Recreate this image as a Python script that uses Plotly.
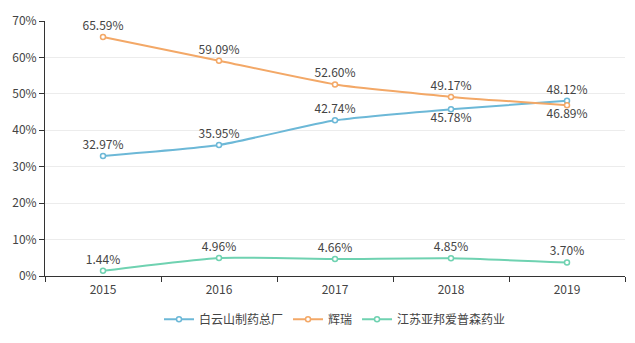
import plotly.graph_objects as go

years = ["2015", "2016", "2017", "2018", "2019"]
baiyunshan = [32.97, 35.95, 42.74, 45.78, 48.12]
huirui = [65.59, 59.09, 52.60, 49.17, 46.89]
jiangsu = [1.44, 4.96, 4.66, 4.85, 3.70]
names = ["白云山制药总厂", "辉瑞", "江苏亚邦爱普森药业"]
y_ticks = [0, 10, 20, 30, 40, 50, 60, 70]

colors = ["#6cb8d7", "#f3a867", "#6fd2b1"]
series = [baiyunshan, huirui, jiangsu]
positions = [
    ["top center", "top center", "top center", "bottom center", "top center"],
    ["top center", "top center", "top center", "top center", "bottom center"],
    ["top center"] * 5,
]

font = "Microsoft YaHei, Noto Sans CJK SC, sans-serif"
fig = go.Figure()
for name, vals, c, pos in zip(names, series, colors, positions):
    fig.add_trace(go.Scatter(
        x=years, y=vals, name=name, mode="lines+markers+text",
        line=dict(color=c, width=2, shape="spline", smoothing=0.5),
        marker=dict(symbol="circle", size=5, color="white", line=dict(color=c, width=1.5)),
        text=[f"{v:.2f}%" for v in vals], textposition=pos,
        textfont=dict(size=12, color="#444", family=font),
        cliponaxis=False,
    ))

fig.update_layout(
    width=635, height=343,
    margin=dict(l=45, r=10, t=21, b=66),
    paper_bgcolor="white", plot_bgcolor="white",
    font=dict(family=font, size=12, color="#444"),
    showlegend=True,
    legend=dict(orientation="h", x=0.5, xanchor="center", y=-0.165, yanchor="middle",
                font=dict(size=12, color="#444", family=font), itemwidth=30,
                traceorder="normal"),
    xaxis=dict(type="category", range=[-0.5, 4.5], showline=True, linecolor="#333", linewidth=1,
               ticks="outside", tickson="boundaries", ticklen=5, tickcolor="#333",
               ticklabelstandoff=3,
               showgrid=False, tickfont=dict(size=12, color="#444")),
    yaxis=dict(range=[0, 70], tickvals=y_ticks, ticktext=[f"{t}%" for t in y_ticks],
               showline=True, linecolor="#333", linewidth=1, ticks="outside", ticklen=5,
               tickcolor="#333", gridcolor="#ececec", zeroline=False,
               tickfont=dict(size=12, color="#444")),
)

fig.write_html("out.html")
